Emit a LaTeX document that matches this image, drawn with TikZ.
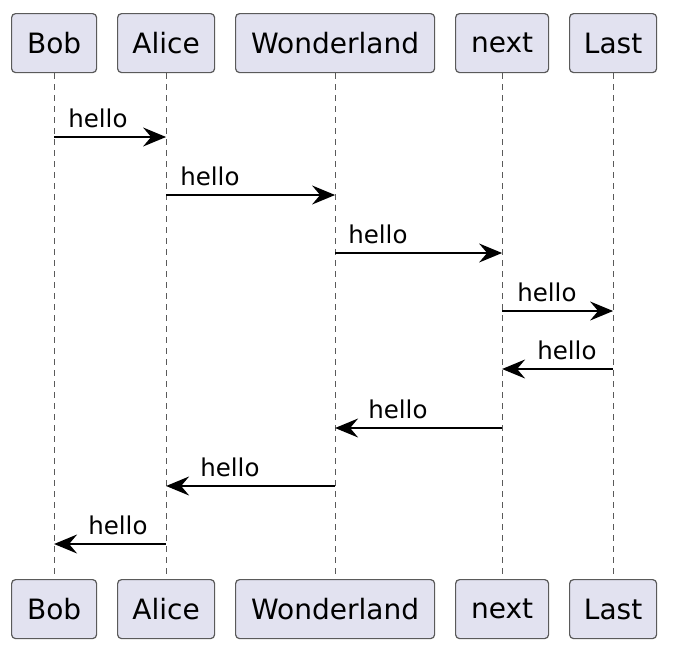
\documentclass[tikz,border=0pt]{standalone}
\usepackage{fontspec}
\setmainfont{DejaVu Sans}
\usetikzlibrary{arrows.meta}
\definecolor{boxfill}{HTML}{E2E2F0}
\definecolor{boxline}{HTML}{5A5A5A}
\definecolor{lifeline}{HTML}{5A5A5A}
\tikzset{
  part/.style={draw=boxline, fill=boxfill, line width=1.2pt, rounded corners=4pt,
    minimum height=59pt, inner sep=0pt, font=\fontsize{28}{31}\selectfont, text=black, anchor=north west},
  life/.style={draw=lifeline, line width=0.9pt, dash pattern=on 6pt off 5pt},
  msg/.style={draw=black, line width=1.6pt, -{Stealth[length=23pt,width=19pt,inset=8pt]}},
  lbl/.style={font=\fontsize{24.5}{27}\selectfont, inner sep=0pt, anchor=base west}
}
\begin{document}
\begin{tikzpicture}[x=1pt,y=-1pt]
\useasboundingbox (0,0) rectangle (674,656);
\fill[white] (0,0) rectangle (674,656);
% top participants
\node[part, minimum width=85pt] (bobT) at (11,13) {Bob};
\node[part, minimum width=97pt] (aliceT) at (117,13) {Alice};
\node[part, minimum width=199pt] (wonT) at (235,13) {Wonderland};
\node[part, minimum width=93pt] (nextT) at (455,13) {next};
\node[part, minimum width=87pt] (lastT) at (569,13) {Last};
% bottom participants
\node[part, minimum width=85pt] (bobB) at (11,579) {Bob};
\node[part, minimum width=97pt] (aliceB) at (117,579) {Alice};
\node[part, minimum width=199pt] (wonB) at (235,579) {Wonderland};
\node[part, minimum width=93pt] (nextB) at (455,579) {next};
\node[part, minimum width=87pt] (lastB) at (569,579) {Last};
% lifelines
\draw[life] (bobT.south) -- (bobB.north);
\draw[life] (aliceT.south) -- (aliceB.north);
\draw[life] (wonT.south) -- (wonB.north);
\draw[life] (nextT.south) -- (nextB.north);
\draw[life] (lastT.south) -- (lastB.north);
% message anchor coordinates
\coordinate (b1) at (bobT.south |- 0,137);
\coordinate (a1) at (aliceT.south |- 0,137);
\coordinate (a2) at (aliceT.south |- 0,195);
\coordinate (w2) at (wonT.south |- 0,195);
\coordinate (w3) at (wonT.south |- 0,253);
\coordinate (n3) at (nextT.south |- 0,253);
\coordinate (n4) at (nextT.south |- 0,311);
\coordinate (l4) at (lastT.south |- 0,311);
\coordinate (l5) at (lastT.south |- 0,369);
\coordinate (n5) at (nextT.south |- 0,369);
\coordinate (n6) at (nextT.south |- 0,428);
\coordinate (w6) at (wonT.south |- 0,428);
\coordinate (w7) at (wonT.south |- 0,486);
\coordinate (a7) at (aliceT.south |- 0,486);
\coordinate (a8) at (aliceT.south |- 0,544);
\coordinate (b8) at (bobT.south |- 0,544);
% messages
\draw[msg] (b1) -- (a1);
\draw[msg] (a2) -- (w2);
\draw[msg] (w3) -- (n3);
\draw[msg] (n4) -- (l4);
\draw[msg] (l5) -- (n5);
\draw[msg] (n6) -- (w6);
\draw[msg] (w7) -- (a7);
\draw[msg] (a8) -- (b8);
% labels
\node[lbl] (m1) at ([xshift=14pt,yshift=10pt]b1) {hello};
\node[lbl] (m2) at ([xshift=14pt,yshift=10pt]a2) {hello};
\node[lbl] (m3) at ([xshift=13pt,yshift=10pt]w3) {hello};
\node[lbl] (m4) at ([xshift=15pt,yshift=10pt]n4) {hello};
\node[lbl] (m5) at ([xshift=35pt,yshift=10pt]n5) {hello};
\node[lbl] (m6) at ([xshift=33pt,yshift=10pt]w6) {hello};
\node[lbl] (m7) at ([xshift=34pt,yshift=10pt]a7) {hello};
\node[lbl] (m8) at ([xshift=34pt,yshift=10pt]b8) {hello};
\end{tikzpicture}
\end{document}
